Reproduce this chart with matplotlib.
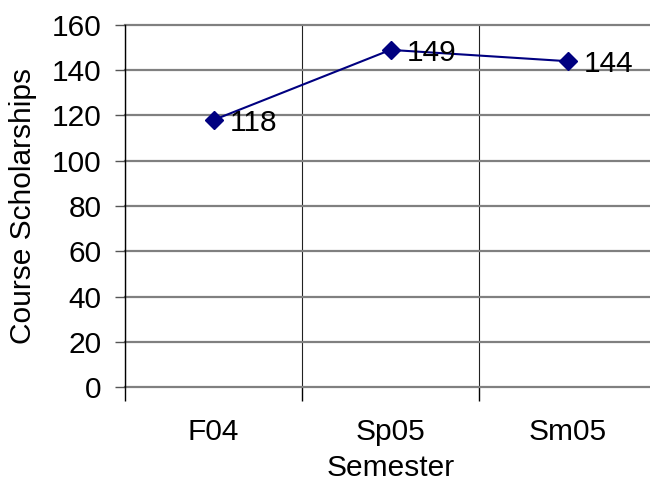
import matplotlib
matplotlib.use("Agg")
import matplotlib.pyplot as plt

semesters = ["F04", "Sp05", "Sm05"]
scholarships = [118, 149, 144]
y_ticks = [0, 20, 40, 60, 80, 100, 120, 140, 160]

plt.rcParams['font.family'] = ['Liberation Sans', 'DejaVu Sans']
fs = 21.5

fig = plt.figure(figsize=(6.5, 4.94), dpi=100)
ax = fig.add_axes([125 / 650, 107 / 494, 531 / 650, 362 / 494])

x = list(range(len(semesters)))
ax.plot(x, scholarships, color="#000080", lw=1.5, marker="D", ms=9,
        mfc="#000080", mec="#000080", zorder=3, clip_on=False)
for xi, v in zip(x, scholarships):
    ax.annotate(str(v), (xi, v), xytext=(12, -2), textcoords="offset points",
                ha="left", va="center", fontsize=fs, color="black")

ax.set_xlim(-0.5, len(semesters) - 0.5)
ax.set_ylim(0, 160)
ax.set_yticks(y_ticks)
ax.set_yticklabels([str(t) for t in y_ticks], fontsize=fs)

# category boundaries as major ticks, names as minor ticks
ax.set_xticks([i - 0.5 for i in range(len(semesters) + 1)])
ax.set_xticklabels([])
ax.set_xticks(x, minor=True)
ax.set_xticklabels(semesters, minor=True, fontsize=fs)
ax.tick_params(axis="x", which="major", length=10, width=1, color="black", direction="out")
ax.tick_params(axis="x", which="minor", length=0, pad=22)
ax.tick_params(axis="y", length=7, width=1, color="#555555", direction="out", pad=10)

ax.grid(axis="y", color="#808080", lw=1.6)
ax.grid(axis="x", which="major", color="#222222", lw=0.8)
for gl in ax.get_ygridlines():
    gl.set_clip_on(False)
ax.set_axisbelow(True)

for s in ["top", "right", "bottom"]:
    ax.spines[s].set_visible(False)
ax.spines["left"].set_color("black")
ax.spines["left"].set_linewidth(1)
ax.spines["left"].set_zorder(2.5)

ax.set_xlabel("Semester", fontsize=fs)
ax.set_ylabel("Course Scholarships", fontsize=fs)
ax.xaxis.set_label_coords(0.5, -0.185)
ax.yaxis.set_label_coords(-0.165, 0.5)

fig.savefig("out.png", dpi=100)
